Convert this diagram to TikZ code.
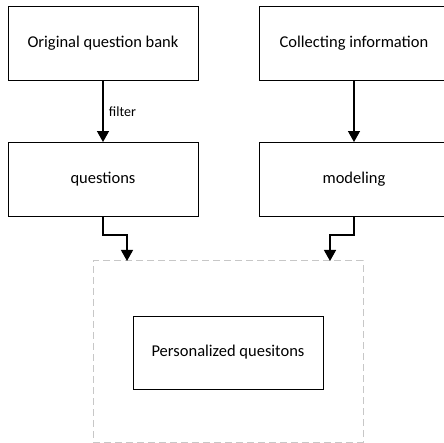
\documentclass[tikz,border=0pt]{standalone}
\usepackage{fontspec}
\setmainfont{Carlito}
\usetikzlibrary{arrows.meta,positioning}

\begin{document}
\begin{tikzpicture}[x=1pt,y=1pt,
  box/.style={draw,line width=0.9pt,minimum width=190pt,minimum height=74pt,inner sep=0pt,
    font=\fontsize{16.5}{19}\selectfont},
  flow/.style={draw,line width=1.3pt,-{Triangle[width=12pt,length=11pt]}},
  group/.style={draw=black!22,line width=1pt,dash pattern=on 7pt off 4pt,
    minimum width=270pt,minimum height=181pt,inner sep=0pt}]
\useasboundingbox (0,0) rectangle (444,-443);

% top row
\node[box] (bank) at (103,-43) {Original question bank};
\node[box] (collect) at (354,-43) {Collecting information};
% second row
\node[box] (questions) at (103,-179.5) {questions};
\node[box] (modeling) at (354,-179.5) {modeling};
% result
\node[group] (result) at (228,-351.5) {};
\node[box,minimum height=73pt] (personal) at (228,-352.5) {Personalized quesitons};

\draw[flow] (bank) -- node[right,font=\fontsize{14}{16}\selectfont,xshift=2pt] {filter} (questions);
\draw[flow] (collect) -- (modeling);

\coordinate (inQ) at (127,-261);
\coordinate (inM) at (330,-261);
\draw[flow] (questions.south) -- ++(0,-18) -| (inQ);
\draw[flow] (modeling.south) -- ++(0,-18) -| (inM);
\end{tikzpicture}
\end{document}
